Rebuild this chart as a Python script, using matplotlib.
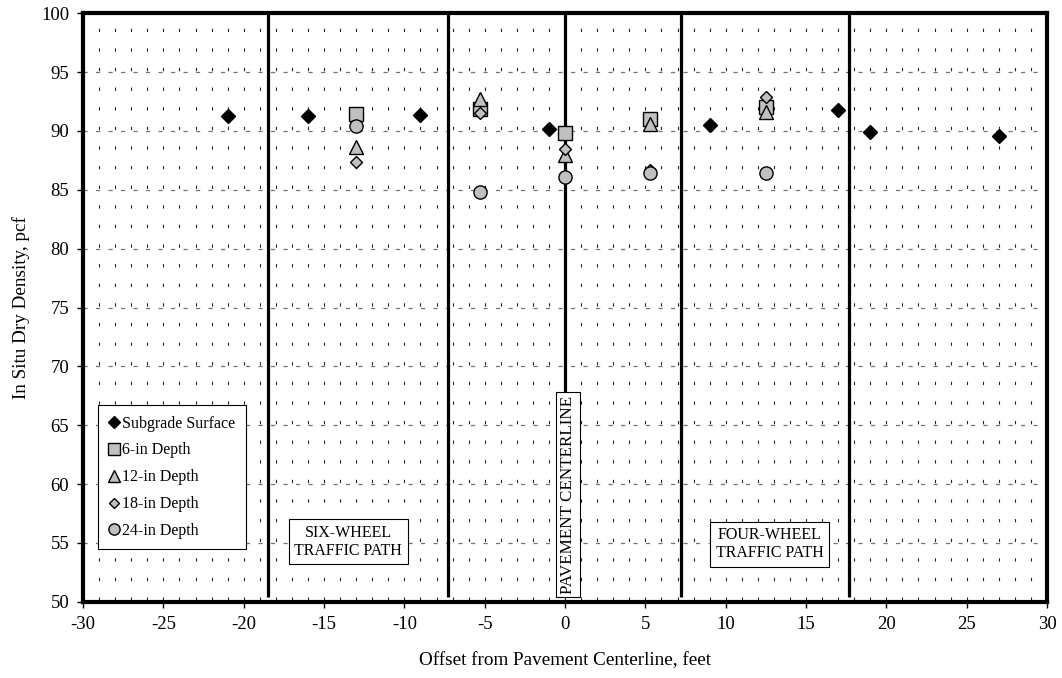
import matplotlib
matplotlib.use("Agg")
import matplotlib.pyplot as plt
import numpy as np

plt.rcParams['font.family'] = ['Liberation Serif', 'DejaVu Serif']
plt.rcParams['lines.scale_dashes'] = False
plt.rcParams['axes.unicode_minus'] = False

# offsets (feet) and in situ dry density (pcf)
surface_x = [-21, -16, -9, -1, 9, 17, 19, 27]
surface_y = [91.25, 91.25, 91.35, 90.15, 90.55, 91.75, 89.95, 89.6]

depth_x = [-13, -5.3, 0, 5.3, 12.5]
depth6_y = [91.4, 91.9, 89.8, 91.05, 92.0]
depth12_y = [88.6, 92.7, 87.95, 90.6, 91.65]
depth18_y = [87.35, 91.5, 88.45, 86.65, 92.85]
depth24_y = [90.4, 84.85, 86.1, 86.45, 86.4]

# traffic path boundaries and centerline
path_lines = [-18.5, -7.3, 0, 7.2, 17.7]

fig = plt.figure(figsize=(10.62, 6.78), dpi=100)
ax = fig.add_axes([0.0782, 0.1125, 0.9077, 0.8679])

ax.set_xlim(-30, 30)
ax.set_ylim(50, 100)

# dotted grid
px_per_unit_y = 588.4 / 50
period = (5 / 3) * px_per_unit_y * 72 / 100
on = 2.4
ax.vlines(np.arange(-29, 30), 50, 100, colors='0.15', linewidth=0.8,
          linestyles=[(period - on / 2, (on, period - on))], zorder=1)
ax.hlines(np.arange(55, 100, 5), -30, 30, colors='0.45', linewidth=0.9,
          linestyles=[(0, (3, 6))], zorder=1)

ax.vlines(path_lines, 50.4, 100, colors='black', linewidth=2.3, zorder=2)

gray = '#c0c0c0'
ax.plot(surface_x, surface_y, 'D', color='black', markersize=7.2,
        label='Subgrade Surface', zorder=5)
ax.plot(depth_x, depth6_y, 's', mfc=gray, mec='black', mew=1.0,
        markersize=9.5, label='6-in Depth', zorder=4)
ax.plot(depth_x, depth12_y, '^', mfc=gray, mec='black', mew=1.0,
        markersize=10, label='12-in Depth', zorder=4)
ax.plot(depth_x, depth18_y, 'D', mfc=gray, mec='black', mew=1.0,
        markersize=6.5, label='18-in Depth', zorder=4)
ax.plot(depth_x, depth24_y, 'o', mfc=gray, mec='black', mew=1.0,
        markersize=9.5, label='24-in Depth', zorder=4)

box = dict(boxstyle='square,pad=0.35', fc='white', ec='black', lw=0.8)
ax.text(-13.5, 55.1, 'SIX-WHEEL\nTRAFFIC PATH', ha='center', va='center',
        fontsize=11.5, bbox=box, zorder=6, linespacing=1.15)
ax.text(12.75, 54.9, 'FOUR-WHEEL\nTRAFFIC PATH', ha='center', va='center',
        fontsize=11.5, bbox=box, zorder=6, linespacing=1.15)
ax.text(0.2, 59.1, 'PAVEMENT CENTERLINE', ha='center', va='center',
        rotation=90, fontsize=12.3, bbox=dict(boxstyle='square,pad=0.22',
        fc='white', ec='black', lw=0.8), zorder=6)

leg = ax.legend(loc='upper left', bbox_to_anchor=(0.0156, 0.334),
                fontsize=11.5, frameon=True, fancybox=False, framealpha=1,
                edgecolor='black', handlelength=0.7, handletextpad=0.15,
                labelspacing=0.68, borderpad=0.65, borderaxespad=0,
                markerscale=0.85)
leg.get_frame().set_linewidth(0.8)
leg.set_zorder(7)

ax.set_xticks(np.arange(-30, 31, 5))
ax.set_yticks(np.arange(50, 101, 5))
ax.tick_params(direction='out', length=4, width=1, labelsize=13.5, pad=6)
for s in ax.spines.values():
    s.set_linewidth(3)
    s.set_zorder(8)

ax.set_xlabel('Offset from Pavement Centerline, feet', fontsize=13.8, labelpad=14)
ax.set_ylabel('In Situ Dry Density, pcf', fontsize=13.8, labelpad=8)

fig.savefig('out.png', dpi=100)
